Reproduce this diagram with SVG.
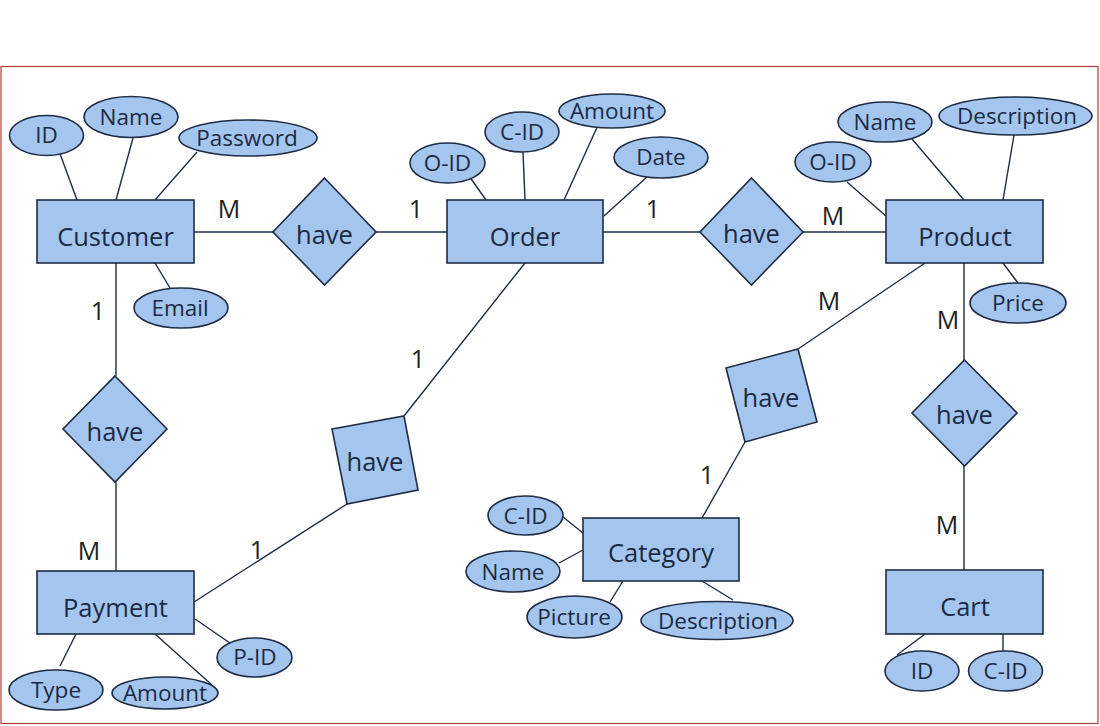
<svg xmlns="http://www.w3.org/2000/svg" width="1100" height="726" viewBox="0 0 1100 726">
<style>
.s{fill:#a4c6ee;stroke:#1f2c44;stroke-width:1.6}
.c line{stroke:#1f2c44;stroke-width:1.4}
text{font-family:"Open Sans","Noto Sans",sans-serif;fill:#1b2a44;text-anchor:middle}
.e{font-size:25.5px}
.a{font-size:22.5px}
.k{font-size:25px;fill:#222}
</style>
<rect width="1100" height="726" fill="#fff"/>
<rect x="1" y="66.5" width="1097" height="657" fill="none" stroke="#b83a3a" stroke-width="1.2"/>
<g class="c" id="connectors">
<line x1="59" y1="151" x2="77" y2="200"/>
<line x1="133" y1="138" x2="116" y2="200"/>
<line x1="197" y1="152" x2="155" y2="200"/>
<line x1="155" y1="263" x2="170" y2="288"/>
<line x1="194" y1="232" x2="273" y2="232"/>
<line x1="376" y1="232" x2="447" y2="232"/>
<line x1="467" y1="173" x2="486" y2="200"/>
<line x1="523" y1="152" x2="525" y2="200"/>
<line x1="599" y1="123" x2="564" y2="200"/>
<line x1="647" y1="177" x2="604" y2="216"/>
<line x1="603" y1="232" x2="700" y2="232"/>
<line x1="803" y1="232" x2="886" y2="232"/>
<line x1="912" y1="139" x2="964" y2="200"/>
<line x1="1014" y1="135" x2="1003" y2="200"/>
<line x1="847" y1="182" x2="886" y2="216"/>
<line x1="1003" y1="263" x2="1018" y2="283"/>
<line x1="925" y1="263" x2="798" y2="349"/>
<line x1="964" y1="263" x2="964" y2="360"/>
<line x1="964" y1="466" x2="964" y2="570"/>
<line x1="925" y1="634" x2="897" y2="655"/>
<line x1="1003" y1="634" x2="1003" y2="651"/>
<line x1="116" y1="263" x2="116" y2="376"/>
<line x1="116" y1="482" x2="116" y2="571"/>
<line x1="76" y1="634" x2="60" y2="666"/>
<line x1="155" y1="634" x2="212" y2="685"/>
<line x1="195" y1="619" x2="230" y2="643"/>
<line x1="194" y1="602" x2="347" y2="504"/>
<line x1="404" y1="416" x2="525" y2="263"/>
<line x1="745" y1="442" x2="702" y2="518"/>
<line x1="563" y1="517" x2="583" y2="533"/>
<line x1="559" y1="563" x2="583" y2="550"/>
<line x1="623" y1="581" x2="610" y2="602"/>
<line x1="702" y1="581" x2="733" y2="600"/>
</g>
<g id="cardinalities">
<text class="k" x="229" y="218">M</text>
<text class="k" x="416" y="218">1</text>
<text class="k" x="653" y="218">1</text>
<text class="k" x="833" y="225">M</text>
<text class="k" x="829" y="310">M</text>
<text class="k" x="948" y="329">M</text>
<text class="k" x="947" y="534">M</text>
<text class="k" x="98" y="320">1</text>
<text class="k" x="89" y="560">M</text>
<text class="k" x="257" y="559">1</text>
<text class="k" x="418" y="368">1</text>
<text class="k" x="707" y="484">1</text>
</g>
<g id="customer"><rect class="s" x="37" y="200" width="157" height="63"/><text class="e" x="115.5" y="246">Customer</text></g>
<g id="cust-id"><ellipse class="s" cx="46.5" cy="135.5" rx="37" ry="20"/><text class="a" x="46.5" y="143">ID</text></g>
<g id="cust-name"><ellipse class="s" cx="131" cy="117" rx="47" ry="20.5"/><text class="a" x="131" y="125">Name</text></g>
<g id="cust-password"><ellipse class="s" cx="248" cy="138" rx="69" ry="18"/><text class="a" x="247" y="146">Password</text></g>
<g id="cust-email"><ellipse class="s" cx="181" cy="308" rx="47" ry="20"/><text class="a" x="180" y="316">Email</text></g>
<g id="have-cust-order"><polygon class="s" points="324.5,178 376,232 324.5,285 273,232"/><text class="e" x="324.5" y="244">have</text></g>
<g id="order"><rect class="s" x="447" y="200" width="156" height="63"/><text class="e" x="525" y="246">Order</text></g>
<g id="order-oid"><ellipse class="s" cx="447.5" cy="163" rx="37.5" ry="20"/><text class="a" x="447.5" y="171">O-ID</text></g>
<g id="order-cid"><ellipse class="s" cx="522" cy="132" rx="37" ry="20"/><text class="a" x="522" y="140">C-ID</text></g>
<g id="order-amount"><ellipse class="s" cx="612" cy="111" rx="53" ry="17"/><text class="a" x="612" y="119">Amount</text></g>
<g id="order-date"><ellipse class="s" cx="661" cy="157.5" rx="47" ry="20.5"/><text class="a" x="661" y="165">Date</text></g>
<g id="have-order-product"><polygon class="s" points="751.5,178 803,232 751.5,285 700,232"/><text class="e" x="751.5" y="243">have</text></g>
<g id="product"><rect class="s" x="886" y="200" width="157" height="63"/><text class="e" x="965" y="246">Product</text></g>
<g id="prod-name"><ellipse class="s" cx="885" cy="122" rx="47" ry="20"/><text class="a" x="885" y="130">Name</text></g>
<g id="prod-description"><ellipse class="s" cx="1015.5" cy="116" rx="76.5" ry="19"/><text class="a" x="1017" y="124">Description</text></g>
<g id="prod-oid"><ellipse class="s" cx="833" cy="162" rx="38" ry="20"/><text class="a" x="833" y="170">O-ID</text></g>
<g id="prod-price"><ellipse class="s" cx="1018" cy="303" rx="48" ry="20"/><text class="a" x="1018" y="311">Price</text></g>
<g id="have-product-cart"><polygon class="s" points="964.5,360 1017,413 964.5,466 912,413"/><text class="e" x="964.5" y="424">have</text></g>
<g id="cart"><rect class="s" x="886" y="570" width="157" height="64"/><text class="e" x="965" y="616">Cart</text></g>
<g id="cart-id"><ellipse class="s" cx="922" cy="671" rx="37" ry="20"/><text class="a" x="922" y="679">ID</text></g>
<g id="cart-cid"><ellipse class="s" cx="1005.5" cy="671" rx="37" ry="20"/><text class="a" x="1005.5" y="679">C-ID</text></g>
<g id="have-cust-payment"><polygon class="s" points="115,376 167,429 115,482 63,429"/><text class="e" x="115" y="441">have</text></g>
<g id="payment"><rect class="s" x="37" y="571" width="157" height="63"/><text class="e" x="115.5" y="617">Payment</text></g>
<g id="pay-type"><ellipse class="s" cx="56" cy="690" rx="47" ry="20"/><text class="a" x="56" y="698">Type</text></g>
<g id="pay-amount"><ellipse class="s" cx="165" cy="693" rx="53" ry="16"/><text class="a" x="165" y="701">Amount</text></g>
<g id="pay-pid"><ellipse class="s" cx="254.5" cy="657.5" rx="37.5" ry="19.5"/><text class="a" x="255" y="665">P-ID</text></g>
<g id="have-order-payment"><polygon class="s" points="332,429 404,416 418,490 347,504"/><text class="e" x="375" y="471">have</text></g>
<g id="have-product-category"><polygon class="s" points="726,368 798,349 817,422 745,442"/><text class="e" x="771" y="407">have</text></g>
<g id="category"><rect class="s" x="583" y="518" width="156" height="63"/><text class="e" x="661" y="562">Category</text></g>
<g id="cat-cid"><ellipse class="s" cx="525.5" cy="515.5" rx="37.5" ry="19.5"/><text class="a" x="525.5" y="524">C-ID</text></g>
<g id="cat-name"><ellipse class="s" cx="513" cy="571.5" rx="47" ry="20.5"/><text class="a" x="513" y="580">Name</text></g>
<g id="cat-picture"><ellipse class="s" cx="574.5" cy="617" rx="47.5" ry="21"/><text class="a" x="574" y="625">Picture</text></g>
<g id="cat-description"><ellipse class="s" cx="717" cy="620.5" rx="76" ry="19"/><text class="a" x="718" y="629">Description</text></g>
</svg>
